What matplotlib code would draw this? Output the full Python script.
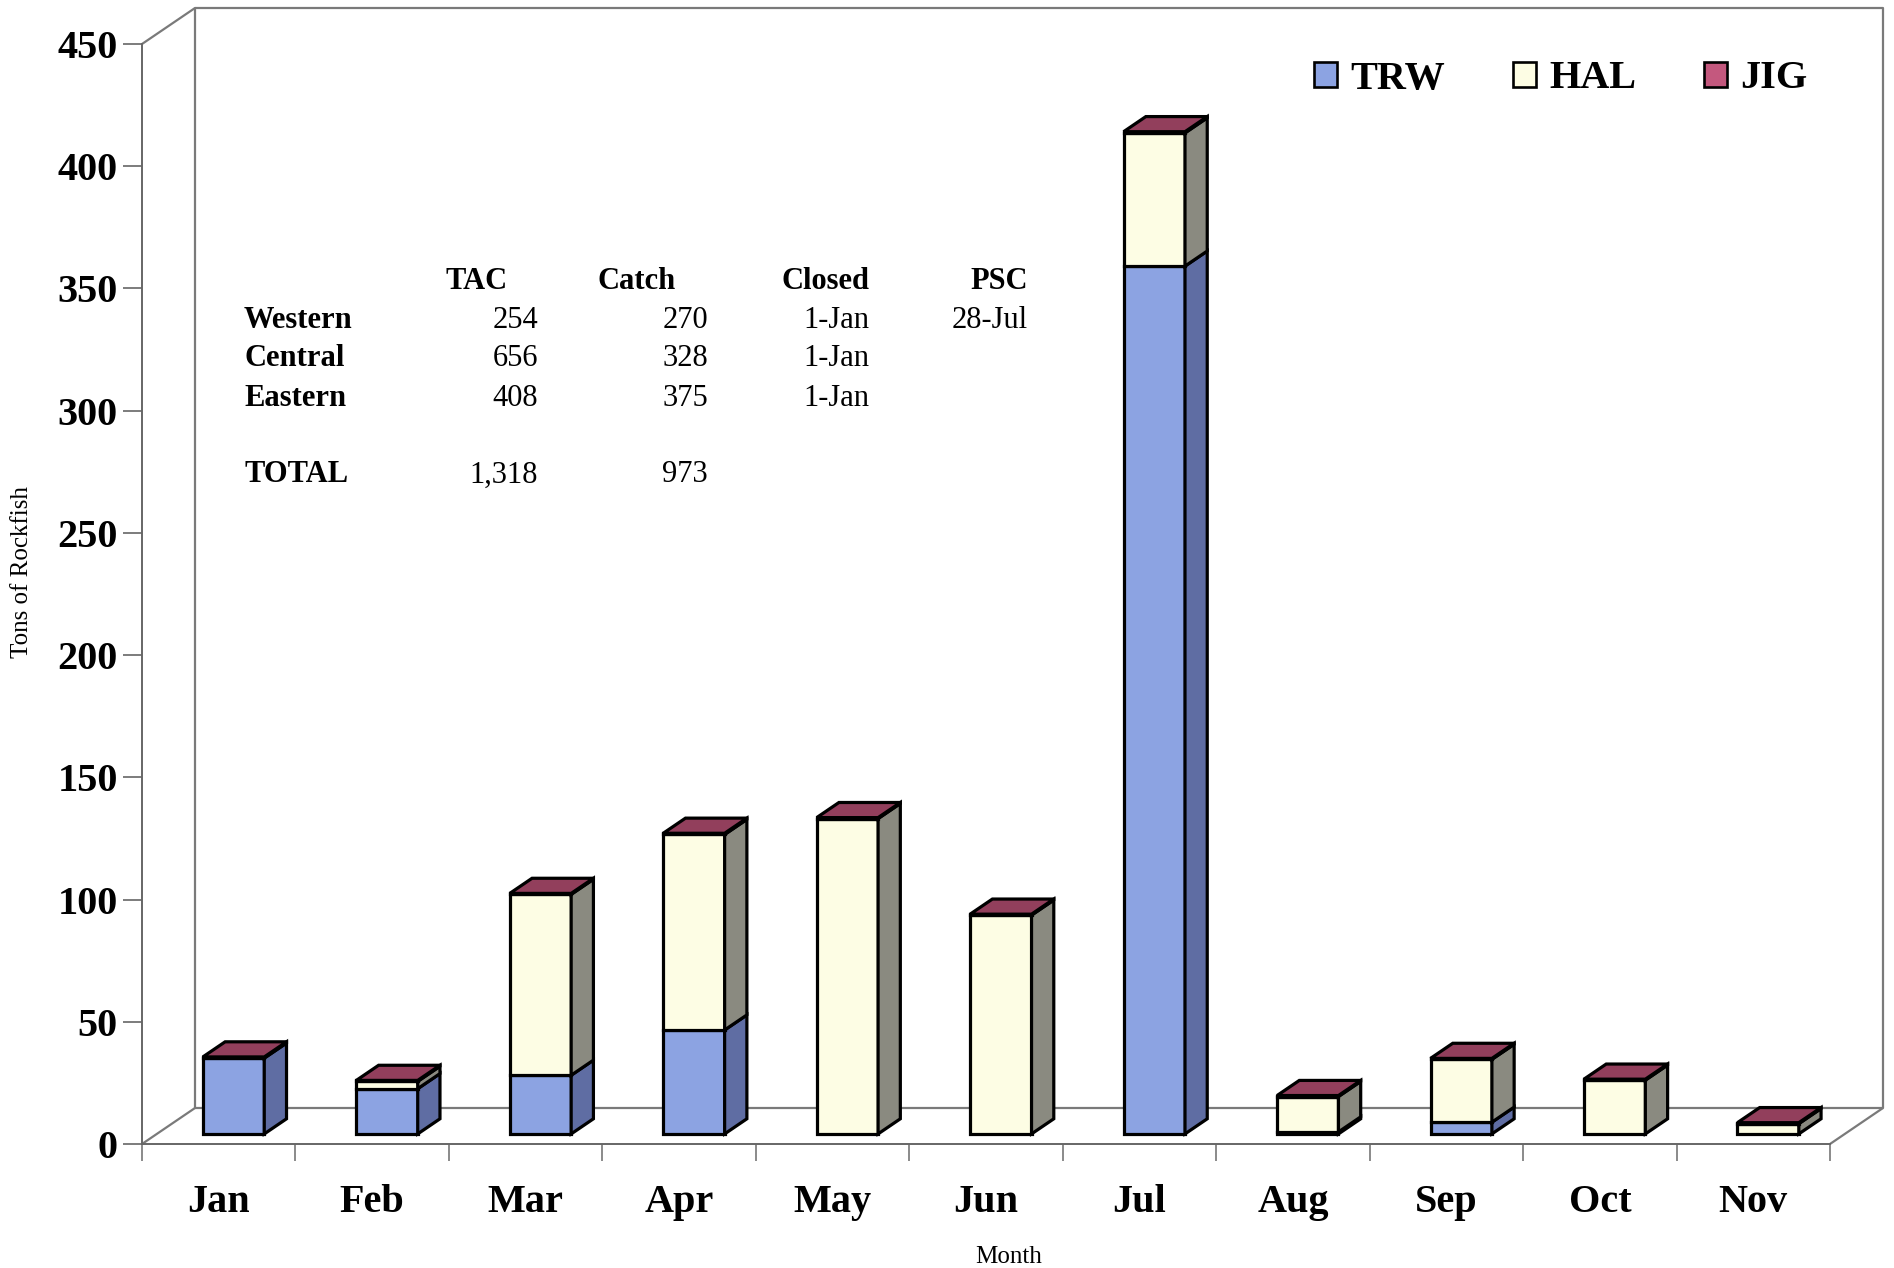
import matplotlib
matplotlib.use("Agg")
import matplotlib.pyplot as plt
from matplotlib.patches import Polygon, Patch
from matplotlib.lines import Line2D

# Monthly rockfish catch by gear type (tons)
months = ["Jan", "Feb", "Mar", "Apr", "May", "Jun", "Jul", "Aug", "Sep", "Oct", "Nov"]
trw = [31, 18.5, 24, 42.5, 0, 0, 355, 0.8, 4.8, 0, 0]
hal = [0, 3, 74, 80, 129, 89.5, 54.5, 14.5, 25.7, 22, 4.2]
jig = [0.5, 0.4, 0.4, 0.5, 0.4, 0.4, 0.5, 0.4, 0.4, 0.4, 0.4]
gear_names = ["TRW", "HAL", "JIG"]

# Summary table
table_cols = ["TAC", "Catch", "Closed", "PSC"]
table_rows = ["Western", "Central", "Eastern"]
tac = ["254", "656", "408"]
catch = ["270", "328", "375"]
closed = ["1-Jan", "1-Jan", "1-Jan"]
psc = ["28-Jul", "", ""]
total_label = "TOTAL"
total_tac = "1,318"
total_catch = "973"

yticks = list(range(0, 451, 50))

# colours: front face, side face, top face
front_col = ["#8ca3e2", "#fdfde4", "#c4587e"]
side_col = ["#5f6da3", "#8a8a80", "#7a3048"]
top_col = ["#7f8fc8", "#e8e8d0", "#923f5c"]

SERIF = "Liberation Serif"

# ---- layout (pixels of the 1894x1268 canvas) ----
W, H = 1894, 1268
X0, Y0 = 142.0, 1144.0          # front-left corner of the floor
SX = (1830.0 - 142.0) / 11.0    # pixels per category
SY = 1100.0 / 450.0             # pixels per ton
DX, DY = 53.0 / SX, 36.0 / SY   # depth offset in data units
ZF, ZB = 0.28, 0.70             # bar depth range
BAR_W = 0.40

xlim = (-0.1, 11.4)
ylim = (-12.0, 468.0)
left_px = X0 + xlim[0] * SX
right_px = X0 + xlim[1] * SX
bot_px = Y0 - ylim[0] * SY
top_px = Y0 - ylim[1] * SY

fig = plt.figure(figsize=(W / 100, H / 100), dpi=100)
ax = fig.add_axes([left_px / W, (H - bot_px) / H,
                   (right_px - left_px) / W, (bot_px - top_px) / H])
ax.set_xlim(*xlim)
ax.set_ylim(*ylim)
ax.patch.set_visible(False)

n = len(months)

# ---- walls and floor ----
wall_kw = dict(color="#7a7a7a", lw=1.6, zorder=1, solid_capstyle="butt")
ymax = yticks[-1]
# back wall
ax.add_line(Line2D([DX, DX, n + DX, n + DX, DX],
                   [DY, ymax + DY, ymax + DY, DY, DY], **wall_kw))
# left wall top edge and floor edges
ax.add_line(Line2D([0, DX], [ymax, ymax + DY], **wall_kw))
ax.add_line(Line2D([0, DX], [0, DY], **wall_kw))
ax.add_line(Line2D([n, n + DX], [0, DY], **wall_kw))

# ---- spines and ticks ----
for s in ["top", "right"]:
    ax.spines[s].set_visible(False)
for s in ["left", "bottom"]:
    ax.spines[s].set_position(("data", 0))
    ax.spines[s].set_color("#666666")
    ax.spines[s].set_linewidth(1.4)
ax.spines["left"].set_bounds(0, ymax)
ax.spines["bottom"].set_bounds(0, n)

ax.set_yticks(yticks)
ax.set_yticklabels([str(v) for v in yticks], fontfamily=SERIF,
                   fontweight="bold", fontsize=29)
ax.tick_params(axis="y", direction="out", length=13.5, width=1.2,
               color="#666666", pad=4)

ax.set_xticks(range(n + 1))
ax.set_xticklabels([""] * (n + 1))
ax.tick_params(axis="x", which="major", direction="out", length=12,
               width=1.2, color="#777777")
ax.set_xticks([i + 0.5 for i in range(n)], minor=True)
ax.set_xticklabels(months, minor=True, fontfamily=SERIF,
                   fontweight="bold", fontsize=29)
ax.tick_params(axis="x", which="minor", length=0, pad=29)

# ---- 3-D stacked bars ----
edge_kw = dict(edgecolor="black", linewidth=2.3, joinstyle="miter")
for i in range(n):
    xl = i + 0.5 - BAR_W / 2
    xr = xl + BAR_W
    bottom = 0.0
    top_series = 0
    for k, vals in enumerate([trw, hal, jig]):
        v = vals[i]
        if v <= 0:
            continue
        b, t = bottom, bottom + v
        front = [(xl + ZF * DX, b + ZF * DY), (xr + ZF * DX, b + ZF * DY),
                 (xr + ZF * DX, t + ZF * DY), (xl + ZF * DX, t + ZF * DY)]
        side = [(xr + ZF * DX, b + ZF * DY), (xr + ZB * DX, b + ZB * DY),
                (xr + ZB * DX, t + ZB * DY), (xr + ZF * DX, t + ZF * DY)]
        ax.add_patch(Polygon(front, closed=True, facecolor=front_col[k],
                             zorder=3, **edge_kw))
        ax.add_patch(Polygon(side, closed=True, facecolor=side_col[k],
                             zorder=3, **edge_kw))
        bottom = t
        top_series = k
    T = bottom
    topf = [(xl + ZF * DX, T + ZF * DY), (xr + ZF * DX, T + ZF * DY),
            (xr + ZB * DX, T + ZB * DY), (xl + ZB * DX, T + ZB * DY)]
    ax.add_patch(Polygon(topf, closed=True, facecolor=top_col[top_series],
                         zorder=4, **edge_kw))

# ---- axis titles ----
def fx(px):
    return px / W


def fy(py):
    return (H - py) / H


fig.text(fx(22), fy(572), "Tons of Rockfish", rotation=90, ha="center",
         va="center", fontfamily=SERIF, fontsize=18)
fig.text(fx(1009), fy(1257), "Month", ha="center", va="center",
         fontfamily=SERIF, fontsize=18)

# ---- legend ----
handles = [Patch(facecolor=front_col[k], edgecolor="black", linewidth=1.9)
           for k in range(3)]
leg = fig.legend(handles, gear_names, loc="center left",
                 bbox_to_anchor=(fx(1314), fy(79)), ncol=3, frameon=False,
                 borderpad=0, borderaxespad=0, handlelength=0.57,
                 handleheight=0.57, handletextpad=0.32, columnspacing=1.7,
                 prop=dict(family=SERIF, weight="bold", size=29))

# ---- summary table ----
tkw = dict(fontfamily=SERIF, fontsize=22, va="center")
hdr_y = 282
row_y = [321, 359, 398]
tot_y = 475
fig.text(fx(477), fy(hdr_y), table_cols[0], ha="center", fontweight="bold", **tkw)
fig.text(fx(637), fy(hdr_y), table_cols[1], ha="center", fontweight="bold", **tkw)
fig.text(fx(869), fy(hdr_y), table_cols[2], ha="right", fontweight="bold", **tkw)
fig.text(fx(1028), fy(hdr_y), table_cols[3], ha="right", fontweight="bold", **tkw)
for r, y in enumerate(row_y):
    fig.text(fx(244), fy(y), table_rows[r], ha="left", fontweight="bold", **tkw)
    fig.text(fx(538), fy(y), tac[r], ha="right", **tkw)
    fig.text(fx(708), fy(y), catch[r], ha="right", **tkw)
    fig.text(fx(869), fy(y), closed[r], ha="right", **tkw)
    if psc[r]:
        fig.text(fx(1028), fy(y), psc[r], ha="right", **tkw)
fig.text(fx(244), fy(tot_y), total_label, ha="left", fontweight="bold", **tkw)
fig.text(fx(538), fy(tot_y), total_tac, ha="right", **tkw)
fig.text(fx(708), fy(tot_y), total_catch, ha="right", **tkw)

fig.savefig("out.png", dpi=100, facecolor="white")
